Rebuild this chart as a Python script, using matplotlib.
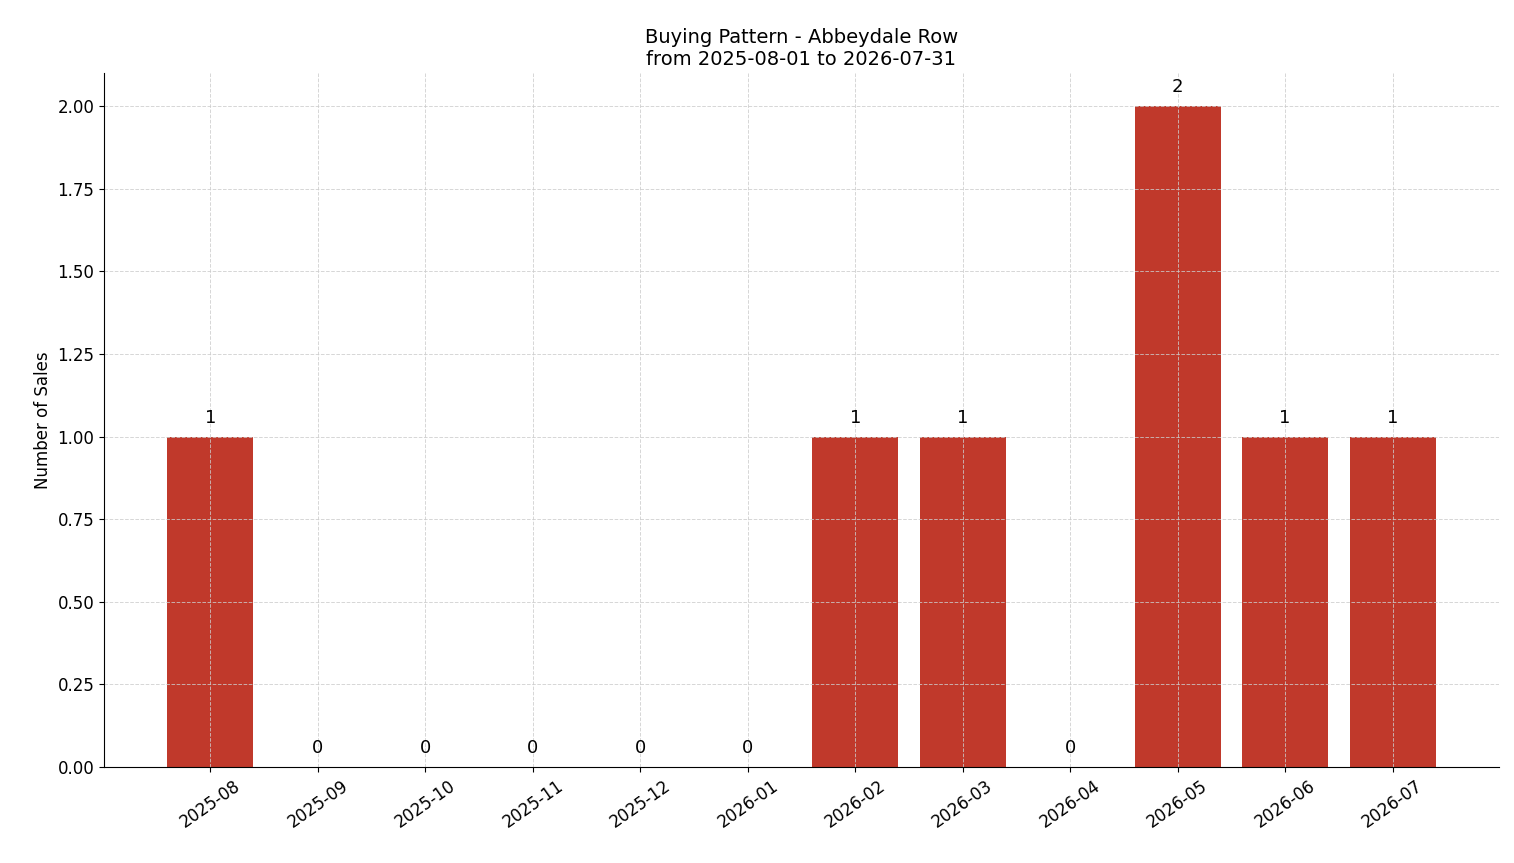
import matplotlib
matplotlib.use("Agg")
import matplotlib.pyplot as plt

months = ["2025-08","2025-09","2025-10","2025-11","2025-12","2026-01",
          "2026-02","2026-03","2026-04","2026-05","2026-06","2026-07"]
sales = [1,0,0,0,0,0,1,1,0,2,1,1]

fig = plt.figure(figsize=(15.14,8.63), dpi=100)
ax = fig.add_axes([104/1514, 1-767/863, (1499-104)/1514, (767-73)/863])
x = range(len(months))
bars = ax.bar(x, sales, width=0.8, color="#c0392b")
for xi, v in zip(x, sales):
    ax.text(xi, v + 0.03, str(v), ha="center", va="bottom", fontsize=13)
ax.set_xticks(list(x))
ax.set_xticklabels(months, rotation=35, fontsize=12)
ax.tick_params(axis="y", labelsize=12)
ax.set_ylim(0, 2.1)
ax.set_yticks([0,0.25,0.5,0.75,1.0,1.25,1.5,1.75,2.0])
ax.set_yticklabels([f"{v:.2f}" for v in [0,0.25,0.5,0.75,1.0,1.25,1.5,1.75,2.0]])
ax.set_ylabel("Number of Sales", fontsize=12)
ax.set_title("Buying Pattern - Abbeydale Row\nfrom 2025-08-01 to 2026-07-31", fontsize=14)
ax.grid(True, linestyle="--", color="#cccccc", alpha=0.8, linewidth=0.7)
ax.spines["top"].set_visible(False)
ax.spines["right"].set_visible(False)
fig.savefig("out.png", dpi=100)
